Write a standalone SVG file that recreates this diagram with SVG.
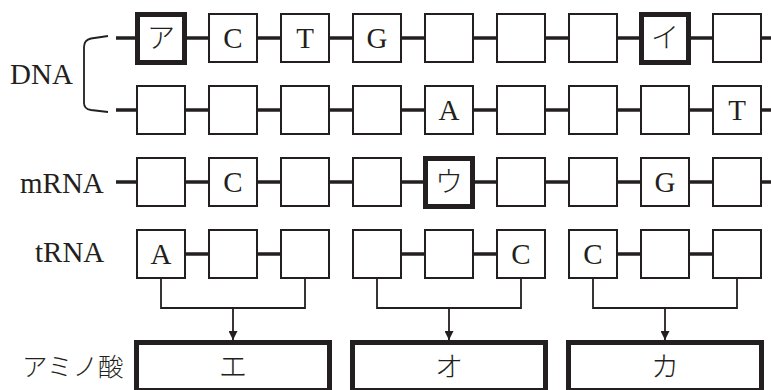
<svg xmlns="http://www.w3.org/2000/svg" width="771" height="390" viewBox="0 0 771 390">
<defs>
<style>
.box{fill:#fff;stroke:#231f20;stroke-width:2}
.thick{fill:#fff;stroke:#231f20;stroke-width:5}
.link{stroke:#231f20;stroke-width:3.5;fill:none}
.thin{stroke:#231f20;stroke-width:1.8;fill:none}
.t{font-family:"Liberation Serif","Noto Sans CJK JP",serif;font-size:29px;fill:#231f20}
.j{font-family:"Noto Sans CJK JP",sans-serif;font-size:28px;font-weight:300;fill:#231f20}
.c{text-anchor:middle}
</style>
<marker id="ah" viewBox="0 0 10 10" refX="10" refY="5" markerWidth="9" markerHeight="9" markerUnits="userSpaceOnUse" orient="auto">
<path d="M0,0 L10,5 L0,10 z" fill="#231f20"/>
</marker>
</defs>
<g id="labels">
<text class="t" x="10" y="84">DNA</text>
<text class="t" x="20" y="193">mRNA</text>
<text class="t" x="35" y="262">tRNA</text>
<text class="j" x="22" y="376" style="font-size:25.5px">アミノ酸</text>
<path class="thin" d="M108,36 L91,38.5 Q84,40 84,47 L84,103 Q84,109 91,110 L108,112"/>
</g>
<g id="connectors">
<line class="link" x1="116" y1="38" x2="771" y2="38"/>
<line class="link" x1="116" y1="110" x2="771" y2="110"/>
<line class="link" x1="116" y1="182" x2="771" y2="182"/>
<path class="link" d="M186,254H208M258,254H280M402,254H424M474,254H496M618,254H640M690,254H712"/>
<path class="thin" d="M161,279V308H305V279"/>
<path class="thin" d="M377,279V308H521V279"/>
<path class="thin" d="M593,279V308H737V279"/>
<line class="thin" x1="233" y1="308" x2="233" y2="340" marker-end="url(#ah)"/>
<line class="thin" x1="449" y1="308" x2="449" y2="340" marker-end="url(#ah)"/>
<line class="thin" x1="665" y1="308" x2="665" y2="340" marker-end="url(#ah)"/>
</g>
<g id="dna1">
<rect class="thick" x="137.5" y="14.5" width="47" height="48"/>
<rect class="box" x="209" y="14" width="48" height="48"/>
<rect class="box" x="281" y="14" width="48" height="48"/>
<rect class="box" x="353" y="14" width="48" height="48"/>
<rect class="box" x="425" y="14" width="48" height="48"/>
<rect class="box" x="497" y="14" width="48" height="48"/>
<rect class="box" x="569" y="14" width="48" height="48"/>
<rect class="thick" x="641.5" y="14.5" width="47" height="48"/>
<rect class="box" x="713" y="14" width="48" height="48"/>
<text class="j c" x="161" y="48">ア</text>
<text class="t c" x="233" y="48">C</text>
<text class="t c" x="305" y="48">T</text>
<text class="t c" x="377" y="48">G</text>
<text class="j c" x="665" y="48">イ</text>
</g>
<g id="dna2">
<rect class="box" x="137" y="86" width="48" height="48"/>
<rect class="box" x="209" y="86" width="48" height="48"/>
<rect class="box" x="281" y="86" width="48" height="48"/>
<rect class="box" x="353" y="86" width="48" height="48"/>
<rect class="box" x="425" y="86" width="48" height="48"/>
<rect class="box" x="497" y="86" width="48" height="48"/>
<rect class="box" x="569" y="86" width="48" height="48"/>
<rect class="box" x="641" y="86" width="48" height="48"/>
<rect class="box" x="713" y="86" width="48" height="48"/>
<text class="t c" x="449" y="120">A</text>
<text class="t c" x="737" y="120">T</text>
</g>
<g id="mrna">
<rect class="box" x="137" y="158" width="48" height="48"/>
<rect class="box" x="209" y="158" width="48" height="48"/>
<rect class="box" x="281" y="158" width="48" height="48"/>
<rect class="box" x="353" y="158" width="48" height="48"/>
<rect class="thick" x="425.5" y="158.5" width="47" height="48"/>
<rect class="box" x="497" y="158" width="48" height="48"/>
<rect class="box" x="569" y="158" width="48" height="48"/>
<rect class="box" x="641" y="158" width="48" height="48"/>
<rect class="box" x="713" y="158" width="48" height="48"/>
<text class="t c" x="233" y="192">C</text>
<text class="j c" x="449" y="192">ウ</text>
<text class="t c" x="665" y="192">G</text>
</g>
<g id="trna">
<rect class="box" x="137" y="230" width="48" height="48"/>
<rect class="box" x="209" y="230" width="48" height="48"/>
<rect class="box" x="281" y="230" width="48" height="48"/>
<rect class="box" x="353" y="230" width="48" height="48"/>
<rect class="box" x="425" y="230" width="48" height="48"/>
<rect class="box" x="497" y="230" width="48" height="48"/>
<rect class="box" x="569" y="230" width="48" height="48"/>
<rect class="box" x="641" y="230" width="48" height="48"/>
<rect class="box" x="713" y="230" width="48" height="48"/>
<text class="t c" x="161" y="264">A</text>
<text class="t c" x="521" y="264">C</text>
<text class="t c" x="593" y="264">C</text>
</g>
<g id="amino">
<rect class="thick" x="136.5" y="342.5" width="193" height="48"/>
<rect class="thick" x="352.5" y="342.5" width="193" height="48"/>
<rect class="thick" x="568.5" y="342.5" width="193" height="48"/>
<text class="j c" x="233" y="377">エ</text>
<text class="j c" x="449" y="377">オ</text>
<text class="j c" x="665" y="377">カ</text>
</g>
</svg>
